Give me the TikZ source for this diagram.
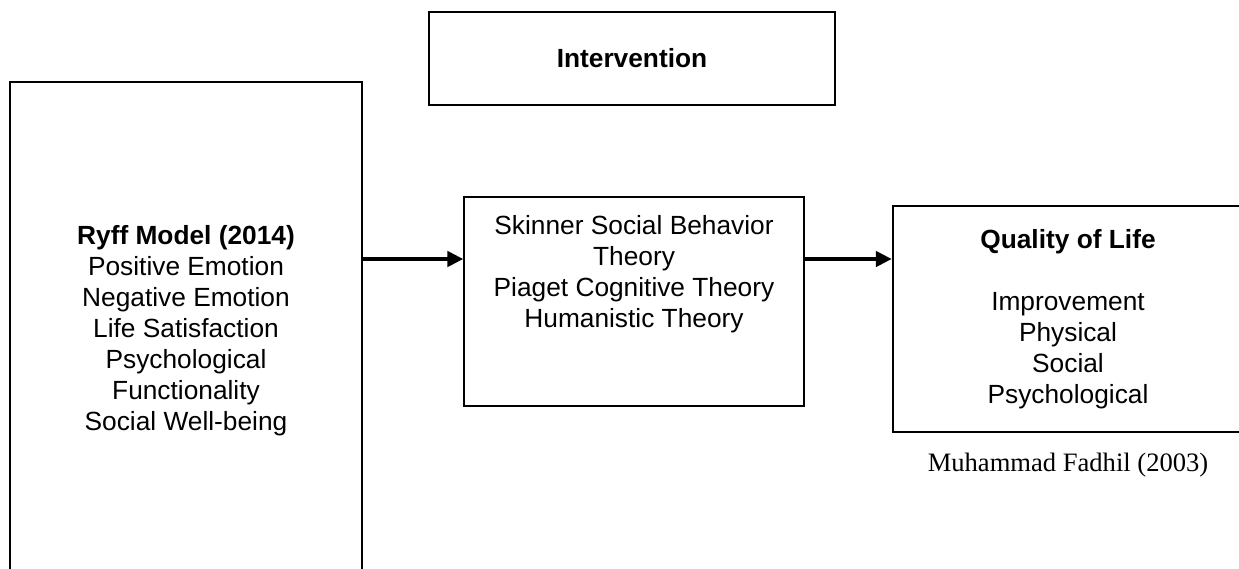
\documentclass[tikz,border=0pt]{standalone}
\usepackage{fontspec}
\setmainfont{Liberation Sans}
\newfontfamily\capfont{Liberation Serif}
\usetikzlibrary{arrows.meta}
\tikzset{
  box/.style={draw,line width=1.4pt,inner sep=0pt,align=center},
  flow/.style={line width=2.8pt,-{Triangle[length=0.4cm,width=0.38cm]}}
}
\begin{document}
\begin{tikzpicture}[line cap=butt,line join=miter,x=0.025cm,y=-0.025cm,font=\fontsize{18.7pt}{22pt}\selectfont]
	\clip (0,0) rectangle (1239,568);
	\node[box,minimum width=10.15cm,minimum height=2.325cm] (intv) at (632,58.5) {\textbf{Intervention}};
	\node[box,minimum width=8.8cm,minimum height=12.45cm] (ryff) at (186,331) {\textbf{Ryff Model (2014)}\\Positive Emotion\\Negative Emotion\\Life Satisfaction\\Psychological\\Functionality\\Social Well-being};
	\node[box,line width=0.9pt,minimum width=8.5cm,minimum height=5.225cm] (mid) at (634,301.5) {};
	\node[inner sep=0pt,align=center,anchor=north] (midtxt) at (634,215) {Skinner Social Behavior\\Theory\\Piaget Cognitive Theory\\Humanistic Theory};
	\node[box,line width=1.6pt,minimum width=8.75cm,minimum height=5.65cm] (qual) at (1068,319) {\textbf{Quality of Life}\\[22pt]Improvement\\Physical\\Social\\Psychological};
	\node[inner sep=0pt,font=\capfont\fontsize{18.9pt}{22pt}\selectfont] (src) at (1068,465) {Muhammad Fadhil (2003)};
	\draw[flow] (ryff.east |- 0,259) -- (mid.west |- 0,259);
	\draw[flow] (mid.east |- 0,259) -- (qual.west |- 0,259);
\end{tikzpicture}
\end{document}
